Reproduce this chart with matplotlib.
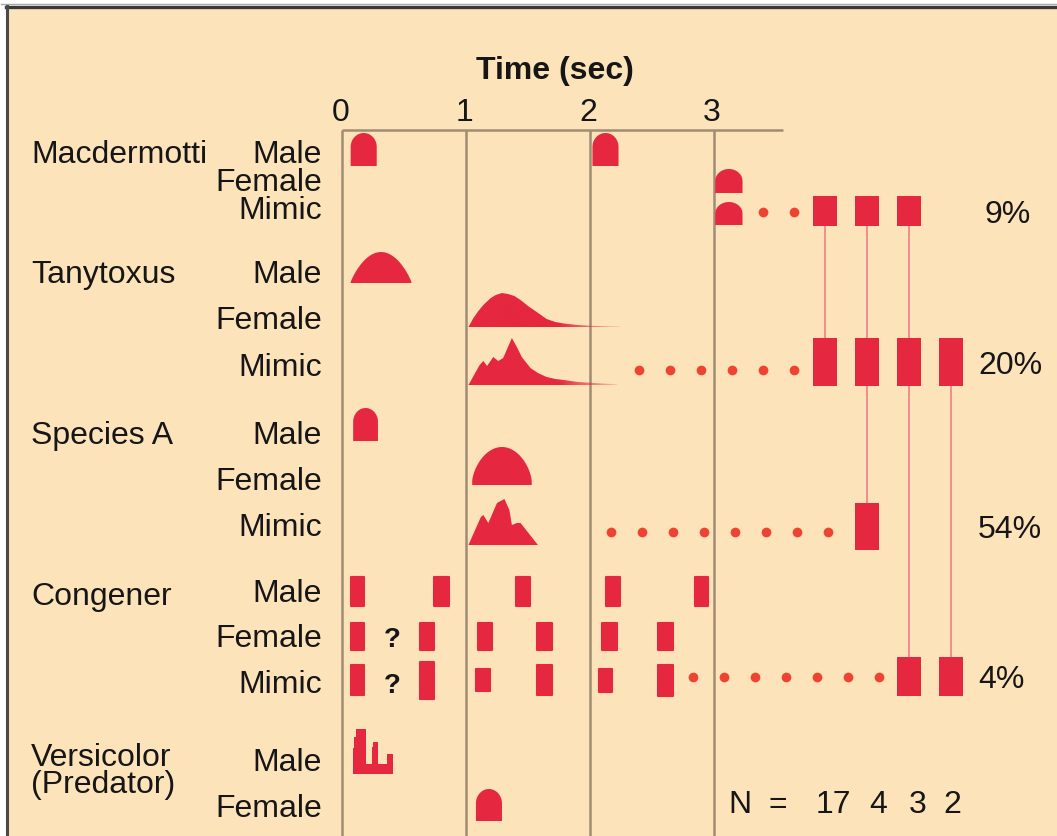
import numpy as np
import matplotlib.pyplot as plt
from matplotlib.patches import Polygon
from matplotlib.lines import Line2D

plt.rcParams['font.family'] = ['Liberation Sans', 'DejaVu Sans']

# ---- flash patterns, times in seconds ----
mac_male = [(0.07, 0.28), (2.02, 2.23)]
mac_female = [(3.01, 3.23)]
mac_mimic = [(3.01, 3.23)]

tany_male = [(0.07, 0.56)]
tany_female_t = [1.02, 1.06, 1.10, 1.14, 1.20, 1.24, 1.29, 1.34, 1.39, 1.44, 1.50,
                 1.57, 1.65, 1.72, 1.79, 1.90, 2.00, 2.12, 2.24, 2.24]
tany_female_h = [0, 9, 16, 22, 29, 32, 34, 33, 31, 27, 21,
                 15, 8, 5, 3.5, 2, 1.2, 0.8, 0.5, 0]
tany_mimic_t = [1.02, 1.11, 1.14, 1.17, 1.22, 1.26, 1.30, 1.37, 1.41, 1.45, 1.52,
                1.58, 1.65, 1.72, 1.79, 1.90, 2.00, 2.10, 2.22, 2.22]
tany_mimic_h = [0, 20, 24, 19, 28, 24, 27, 47, 38, 28, 17,
                12, 8, 6, 5, 3, 2.3, 1.5, 0.7, 0]

spa_male = [(0.09, 0.29)]
spa_female = [(1.05, 1.53)]
spa_mimic_t = [1.02, 1.12, 1.14, 1.18, 1.25, 1.31, 1.35, 1.37, 1.41, 1.44, 1.58]
spa_mimic_h = [0, 28, 30, 22, 42, 46, 35, 20, 22, 22, 0]

cong_male = [(0.07, 0.18), (0.74, 0.86), (1.40, 1.52), (2.13, 2.24), (2.85, 2.95)]
cong_female = [(0.07, 0.18), (0.63, 0.74), (1.10, 1.21), (1.57, 1.69), (2.10, 2.22), (2.55, 2.67)]
cong_mimic = [(0.07, 0.18), (0.63, 0.74), (1.08, 1.19), (1.57, 1.69), (2.07, 2.18), (2.55, 2.67)]
cong_mimic_h = [30, 37, 22, 30, 23, 31]

vers_male_t = [0.086, 0.086, 0.10, 0.10, 0.113, 0.113, 0.19, 0.19, 0.238, 0.238,
               0.25, 0.25, 0.293, 0.293, 0.36, 0.36, 0.412, 0.412]
vers_male_h = [0, 26, 26, 37, 37, 45, 45, 10, 10, 27, 27, 32, 32, 10, 10, 20, 20, 0]
vers_female = [(1.08, 1.29)]

# mimic groups on the right
mimic_pct = ['9%', '20%', '54%', '4%']
mimic_n = [17, 4, 3, 2]
# which mimic groups produce each model's pattern (Macdermotti, Tanytoxus, Species A, Congener)
pattern_groups = [[0, 1, 2], [0, 1, 2, 3], [1], [2, 3]]

species = ['Macdermotti', 'Tanytoxus', 'Species A', 'Congener', 'Versicolor\n(Predator)']
sexes = [['Male', 'Female', 'Mimic'], ['Male', 'Female', 'Mimic'], ['Male', 'Female', 'Mimic'],
         ['Male', 'Female', 'Mimic'], ['Male', 'Female']]
ticks = [0, 1, 2, 3]

# ---- layout (pixels of the original artwork) ----
W, H = 1057, 836
T0_PX = 342
PX_PER_SEC = 124
BG = '#FDE3BA'
RED = '#E5273F'
DOT = '#EE4331'
LINK = '#F0868C'
GRID = '#9F8C72'
INK = '#161616'
FS = 23


def px(x):
    return (x - T0_PX) / PX_PER_SEC


species_base = [163, 283, 444, 605, 793]
sex_base = [[163, 191, 219], [283, 329, 376], [444, 490, 536], [602, 647, 693], [771, 817]]

fig = plt.figure(figsize=(W / 100, H / 100), dpi=100)
fig.patch.set_facecolor('white')
ax = fig.add_axes([0, 0, 1, 1])
ax.set_facecolor('none')
ax.axis('off')

# peach card with dark border on top / left
fig.patches.append(plt.Rectangle((8 / W, 0), 1, (H - 8) / H, transform=fig.transFigure,
                                 facecolor=BG, edgecolor='none', zorder=-5))
fig.add_artist(Line2D([6 / W, 1], [1 - 6.5 / H, 1 - 6.5 / H], transform=fig.transFigure,
                      color='#3a3a3a', lw=2.4))
fig.add_artist(Line2D([1 / W, 1], [1 - 4 / H, 1 - 4 / H], transform=fig.transFigure,
                      color='#a8a8a8', lw=1))
fig.add_artist(Line2D([7 / W, 7 / W], [0, 1 - 6 / H], transform=fig.transFigure,
                      color='#4a4a4a', lw=2.2))

# time axis
ax.vlines(ticks, 130, H, colors=GRID, lw=1.8, zorder=1)
ax.hlines(130, 0, px(783), colors=GRID, lw=1.8, zorder=1)
for t in ticks:
    ax.text(t - 0.015, 121, str(t), ha='center', va='baseline', fontsize=FS, color=INK)
ax.text(px(555), 79, 'Time (sec)', ha='center', va='baseline', fontsize=FS,
        fontweight='bold', color=INK)

# row labels
for i, name in enumerate(species):
    ax.text(px(31), species_base[i], name, ha='left', va='baseline', fontsize=FS,
            color=INK, linespacing=0.85)
    for j, s in enumerate(sexes[i]):
        ax.text(px(322), sex_base[i][j], s, ha='right', va='baseline', fontsize=FS, color=INK)


def dome(flashes, base, h, shoulder, k=1.0):
    ang = np.linspace(0, np.pi, 60)
    for t0, t1 in flashes:
        c, r = (t0 + t1) / 2, (t1 - t0) / 2
        xs = np.concatenate([[t1], c + r * np.cos(ang), [t0]])
        cap = shoulder + (1 - shoulder) * np.sin(ang) ** k
        ys = np.concatenate([[base], base - h * cap, [base]])
        ax.fill(xs, ys, color=RED, lw=0, zorder=3)


def wave(t, h, base, fade_from=None):
    t = np.asarray(t)
    y = base - np.asarray(h)
    if fade_from is None:
        ax.fill(t, y, color=RED, lw=0, zorder=3)
        return
    poly = Polygon(np.column_stack([t, y]), closed=True, facecolor='none', edgecolor='none')
    ax.add_patch(poly)
    xs = np.linspace(t.min(), t.max(), 300)
    alpha = np.clip(1 - (xs - fade_from) / (t.max() - fade_from) * 0.8, 0.2, 1)
    rgba = np.zeros((1, len(xs), 4))
    rgba[..., :3] = plt.matplotlib.colors.to_rgb(RED)
    rgba[0, :, 3] = alpha
    im = ax.imshow(rgba, extent=(t.min(), t.max(), base, base - max(h) - 1),
                   aspect='auto', interpolation='bilinear', zorder=3)
    im.set_clip_path(poly)


def pulses(flashes, center, heights):
    for (t0, t1), h in zip(flashes, heights):
        ax.bar(t0, h, width=t1 - t0, bottom=center - h / 2, align='edge', color=RED,
               edgecolor=RED, lw=1.5, joinstyle='round', zorder=3)


# Macdermotti
dome(mac_male, 166, 33, 0.58)
dome(mac_female, 193, 24, 0.5)
dome(mac_mimic, 225, 23, 0.5)
# Tanytoxus
dome(tany_male, 283, 31, 0.03, k=1.8)
wave(tany_female_t, tany_female_h, 327, fade_from=1.75)
wave(tany_mimic_t, tany_mimic_h, 385, fade_from=1.75)
# Species A
dome(spa_male, 441, 33, 0.58)
dome(spa_female, 485, 38, 0.1, k=1.3)
wave(spa_mimic_t, spa_mimic_h, 545)
# Congener
pulses(cong_male, 591, [29] * len(cong_male))
pulses(cong_female, 636, [27] * len(cong_female))
pulses(cong_mimic, 680, cong_mimic_h)
for yb in [647, 693]:
    ax.text(px(392), yb, '?', ha='center', va='baseline', fontsize=20, fontweight='bold', color=INK)
# Versicolor
wave(vers_male_t, vers_male_h, 774)
dome(vers_female, 821, 32, 0.55)

# dotted leaders from the mimic rows to the group bars
dot_rows = [(212, 763, 2), (370, 639, 6), (532, 611, 8), (677, 693, 7)]
for y, first, n in dot_rows:
    xs = px(first) + 0.25 * np.arange(n)
    ax.plot(xs, [y] * n, 'o', color=DOT, ms=7, mec='none', zorder=3)

# mimic group columns
col_px = [825, 867, 909, 951]
grp_y = [211, 362, 526, 676]
grp_h = [30, 48, 47, 39]
pct_px = [985, 978, 978, 978]
bar_w = 24 / PX_PER_SEC
for j, cx in enumerate(col_px):
    rows = [i for i, g in enumerate(pattern_groups) if j in g]
    ax.vlines(px(cx), grp_y[rows[0]], grp_y[rows[-1]], colors=LINK, lw=1.3, zorder=2)
for i, g in enumerate(pattern_groups):
    for j in g:
        ax.bar(px(col_px[j]), grp_h[i], width=bar_w, bottom=grp_y[i] - grp_h[i] / 2,
               color=RED, lw=0, zorder=3)
    ax.text(px(pct_px[i]), grp_y[i] + 12, mimic_pct[i], ha='left', va='baseline',
            fontsize=FS, color=INK)

ax.text(px(740), 813, 'N', ha='center', va='baseline', fontsize=FS, color=INK)
ax.text(px(778), 813, '=', ha='center', va='baseline', fontsize=FS, color=INK)
for n, xp in zip(mimic_n, [833, 878, 918, 952]):
    ax.text(px(xp), 813, str(n), ha='center', va='baseline', fontsize=FS, color=INK)

ax.set_xlim(px(0), px(W))
ax.set_ylim(H, 0)
fig.savefig('out.png', dpi=100, facecolor=fig.get_facecolor())
